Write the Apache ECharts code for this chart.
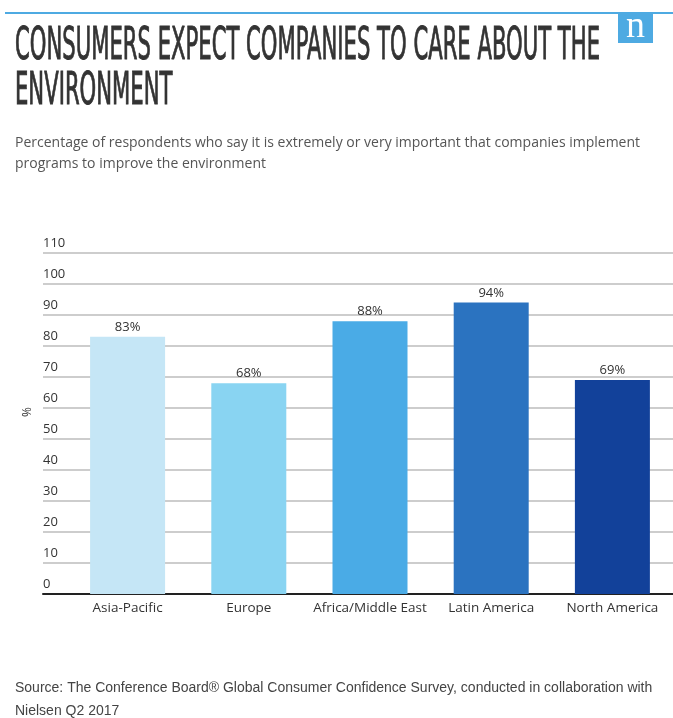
<!DOCTYPE html>
<html>
<head>
<meta charset="utf-8">
<style>
  html, body { margin: 0; padding: 0; background: #fff; }
  #chart { width: 673px; height: 718px; }
</style>
<script src="https://cdn.jsdelivr.net/npm/echarts@6/dist/echarts.min.js"></script>
</head>
<body>
<div id="chart"></div>
<script>
// Regions surveyed and the share who rate environmental programs as important
const regions = ['Asia-Pacific', 'Europe', 'Africa/Middle East', 'Latin America', 'North America'];
const shares = [83, 68, 88, 94, 69];
const barColors = ['#c5e6f6', '#89d4f2', '#4aabe6', '#2b73c0', '#12419a'];
const yTicks = { min: 0, max: 110, step: 10 };

const titleLines = ['CONSUMERS EXPECT COMPANIES TO CARE ABOUT THE', 'ENVIRONMENT'];
const subtitle = 'Percentage of respondents who say it is extremely or very important that companies implement\nprograms to improve the environment';
const source = 'Source: The Conference Board\u00ae Global Consumer Confidence Survey, conducted in collaboration with\nNielsen Q2 2017';

const titleFamily = '"DejaVu Sans Condensed", "Liberation Sans Narrow", "Liberation Sans", sans-serif';
const titleSize = 42;
const titleFont = titleSize + 'px ' + titleFamily;

// Squeeze the headline horizontally so it reads as a condensed display face
function squeeze(text, target) {
  const ctx = document.createElement('canvas').getContext('2d');
  ctx.font = titleFont;
  return target / ctx.measureText(text).width;
}
const titleScale = squeeze(titleLines[0], 585);

const chart = echarts.init(document.getElementById('chart'), null, { renderer: 'canvas' });

const headline = (text, y) => ({
  type: 'text', x: 15, y: y, scaleX: titleScale, scaleY: 1.05,
  style: {
    text: text, fill: '#333', stroke: '#333', lineWidth: 0.9,
    font: titleFont, verticalAlign: 'middle'
  }
});

chart.setOption({
  animation: false,
  backgroundColor: '#fff',
  grid: [
    { left: 43, right: -20, top: 253, bottom: 124 },
    { left: 67, width: 614, top: 253, bottom: 124 }
  ],
  xAxis: [
    {
      gridIndex: 0, type: 'category', data: [''],
      axisLine: { show: true, lineStyle: { color: '#222', width: 2 } },
      axisTick: { show: false }, axisLabel: { show: false }
    },
    {
      gridIndex: 1, type: 'category', data: regions,
      axisLine: { show: false }, axisTick: { show: false },
      axisLabel: { color: '#333', fontSize: 13.5, fontFamily: '"Open Sans", sans-serif', margin: 7, interval: 0 }
    }
  ],
  yAxis: [
    {
      gridIndex: 0, type: 'value', min: yTicks.min, max: yTicks.max, interval: yTicks.step,
      axisLine: { show: false }, axisTick: { show: false },
      splitLine: { show: true, lineStyle: { color: '#bdbdbd', width: 1.5 } },
      axisLabel: {
        inside: true, margin: 0, align: 'left', verticalAlign: 'bottom',
        padding: [0, 0, 3, 0],
        color: '#333', fontSize: 13, fontFamily: '"Open Sans", sans-serif'
      }
    },
    {
      gridIndex: 1, type: 'value', min: yTicks.min, max: yTicks.max, interval: yTicks.step,
      show: false, splitLine: { show: false }
    }
  ],
  series: [
    {
      type: 'bar', xAxisIndex: 1, yAxisIndex: 1,
      barWidth: 75,
      data: shares.map((v, i) => ({ value: v, itemStyle: { color: barColors[i] } })),
      label: {
        show: true, position: 'top', distance: 3,
        formatter: '{c}%', color: '#333', fontSize: 13, fontFamily: '"Open Sans", sans-serif'
      }
    }
  ],
  graphic: [
    // top rule
    { type: 'rect', shape: { x: 5, y: 12, width: 680, height: 2 }, style: { fill: '#4eaae2' } },
    // brand mark
    { type: 'rect', shape: { x: 618, y: 14, width: 35, height: 29 }, style: { fill: '#4eaae2' } },
    {
      type: 'text', x: 635.5, y: 27,
      style: { text: 'n', fill: '#fff', font: '38px "Liberation Serif", "DejaVu Serif", serif', align: 'center', verticalAlign: 'middle' }
    },
    // headline
    headline(titleLines[0], 48),
    headline(titleLines[1], 93),
    // subtitle
    {
      type: 'text', x: 15, y: 133,
      style: { text: subtitle, fill: '#555', font: '14px "Open Sans", sans-serif', lineHeight: 21, verticalAlign: 'top' }
    },
    // axis unit
    {
      type: 'text', x: 28, y: 412, rotation: Math.PI / 2,
      style: { text: '%', fill: '#333', font: '12px "Open Sans", sans-serif', align: 'center', verticalAlign: 'middle' }
    },
    // source note
    {
      type: 'text', x: 15, y: 677,
      style: { text: source, fill: '#444', font: '14px "Liberation Sans", Arial, sans-serif', lineHeight: 23, verticalAlign: 'top' }
    }
  ]
});
</script>
</body>
</html>
